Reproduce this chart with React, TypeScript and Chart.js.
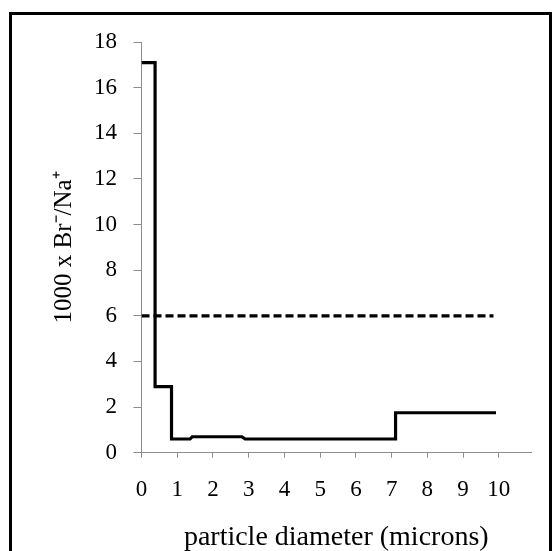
import { useEffect, useRef } from 'react';
import { Chart, registerables } from 'chart.js';

Chart.register(...registerables);

// Step profile (particle diameter in microns vs 1000 x Br-/Na+)
const stepX = [0, 0.38, 0.38, 0.84, 0.84, 1.36, 1.42, 2.81, 2.9, 7.11, 7.11, 9.92];
const stepY = [17.1, 17.1, 2.9, 2.9, 0.6, 0.6, 0.7, 0.7, 0.6, 0.6, 1.75, 1.75];

// Dashed reference level
const refX = [0, 9.85];
const refY = [6, 6];

const xTicks = [0, 1, 2, 3, 4, 5, 6, 7, 8, 9, 10];
const yTicks = [0, 2, 4, 6, 8, 10, 12, 14, 16, 18];

const xTitle = 'particle diameter (microns)';
const yTitle = '1000 x Br\u207B/Na\u207A';

const FONT = "'Liberation Serif', 'Times New Roman', serif";
const AXIS = '#8c8c8c';

export default function App() {
  const ref = useRef<HTMLCanvasElement>(null);

  useEffect(() => {
    if (!ref.current) return;
    const chart = new Chart(ref.current, {
      type: 'scatter',
      data: {
        datasets: [
          {
            data: stepX.map((x, i) => ({ x, y: stepY[i] })),
            showLine: true,
            borderColor: '#000',
            backgroundColor: '#000',
            borderWidth: 3.2,
            pointRadius: 0,
            tension: 0,
            fill: false,
          },
          {
            data: refX.map((x, i) => ({ x, y: refY[i] })),
            showLine: true,
            borderColor: '#000',
            backgroundColor: '#000',
            borderWidth: 3.2,
            borderDash: [8, 4],
            pointRadius: 0,
            tension: 0,
            fill: false,
          },
        ],
      },
      options: {
        responsive: false,
        animation: false,
        layout: { padding: { left: 46, top: 42, right: 25, bottom: 0 } },
        plugins: { legend: { display: false }, tooltip: { enabled: false } },
        scales: {
          x: {
            type: 'linear',
            min: 0,
            max: 10.9,
            afterBuildTicks: (s: any) => {
              s.ticks = xTicks.map((v) => ({ value: v }));
            },
            afterFit: (s: any) => {
              s.height = 98.3;
            },
            ticks: {
              color: '#000',
              font: { family: FONT, size: 23 },
              padding: 18.5,
              maxRotation: 0,
              autoSkip: false,
            },
            grid: { drawOnChartArea: false, drawTicks: true, tickLength: 5, color: AXIS },
            border: { color: AXIS, width: 1 },
            title: {
              display: true,
              text: xTitle,
              color: '#000',
              font: { family: FONT, size: 28 },
              padding: { top: 0, bottom: -3 },
            },
          },
          y: {
            type: 'linear',
            min: 0,
            max: 18,
            afterBuildTicks: (s: any) => {
              s.ticks = yTicks.map((v) => ({ value: v }));
            },
            afterFit: (s: any) => {
              s.width = 95.5;
            },
            ticks: {
              color: '#000',
              font: { family: FONT, size: 23 },
              padding: 16.5,
              autoSkip: false,
            },
            grid: { drawOnChartArea: false, drawTicks: true, tickLength: 8, color: AXIS },
            border: { color: AXIS, width: 1 },
            title: {
              display: true,
              text: yTitle,
              color: '#000',
              font: { family: FONT, size: 25 },
              padding: { top: 3, bottom: 0 },
            },
          },
        },
      },
    });
    return () => chart.destroy();
  }, []);

  return (
    <div
      style={{
        position: 'fixed',
        left: 0,
        top: 0,
        width: 556,
        height: 551,
        overflow: 'hidden',
        background: '#fff',
      }}
    >
      <div
        style={{
          position: 'absolute',
          left: 9,
          top: 12,
          width: 543,
          height: 600,
          boxSizing: 'border-box',
          border: '3px solid #000',
        }}
      />
      <canvas
        ref={ref}
        width={556}
        height={551}
        style={{ position: 'absolute', left: 0, top: 0, width: 556, height: 551, display: 'block' }}
      />
    </div>
  );
}
